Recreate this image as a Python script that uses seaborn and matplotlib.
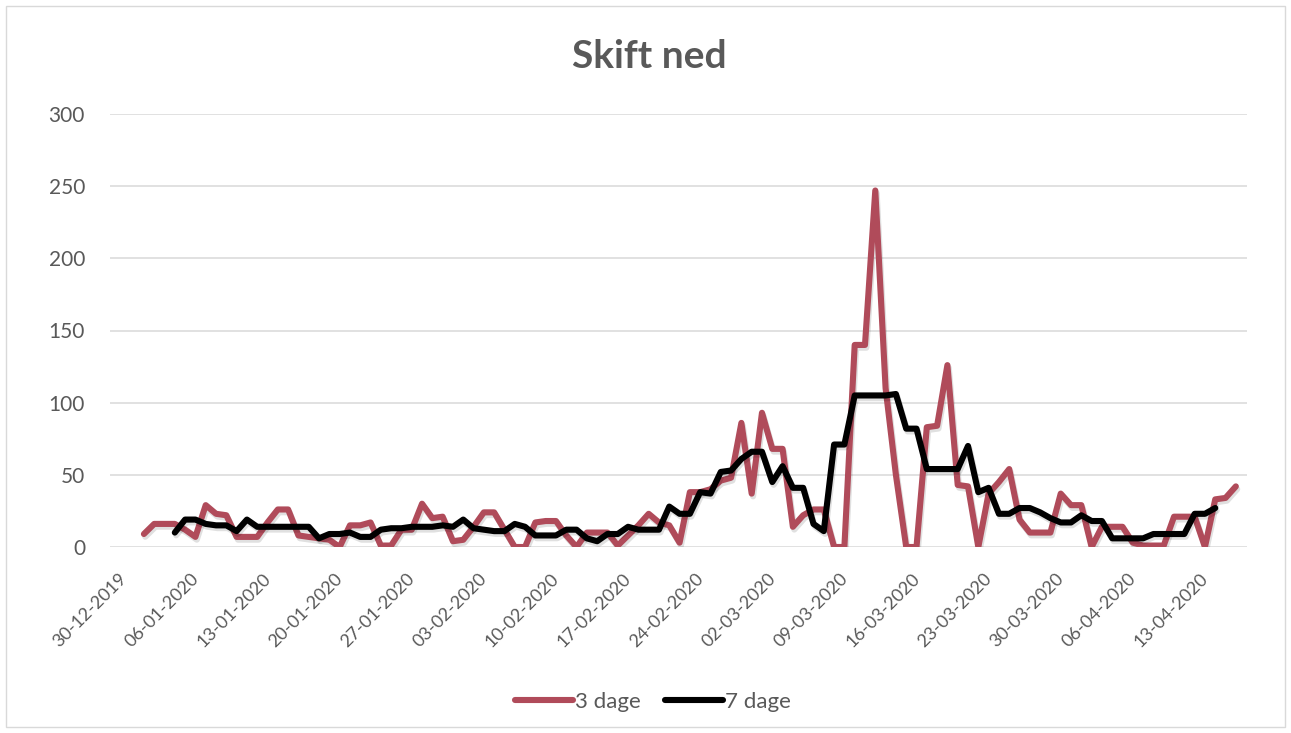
import pandas as pd
import matplotlib
matplotlib.use("Agg")
import matplotlib.pyplot as plt
import matplotlib.patheffects as pe
from matplotlib.patches import Rectangle
import seaborn as sns

# daily values
red_start = "2020-01-01"
red_vals = [9, 16, 16, 16, 12, 7, 29, 23, 22, 7, 7, 7, 17, 26, 26, 8, 7, 6, 5, 0,
            15, 15, 17, 1, 1, 12, 12, 30, 20, 21, 4, 5, 14, 24, 24, 12, 0, 0, 17, 18,
            18, 8, 0, 10, 10, 10, 1, 8, 15, 23, 17, 15, 3, 38, 38, 40, 46, 48, 86, 37,
            93, 68, 68, 14, 22, 26, 26, 0, 0, 140, 140, 247, 110, 50, 0, 0, 83, 84, 126, 43,
            42, 0, 37, 45, 54, 19, 10, 10, 10, 37, 29, 29, 0, 14, 14, 14, 3, 1, 1, 1,
            21, 21, 21, 0, 33, 34, 42]
black_start = "2020-01-04"
black_vals = [10, 19, 19, 16, 15, 15, 11, 19, 14, 14, 14, 14, 14, 14, 6, 9, 9, 10, 7, 7,
              12, 13, 13, 14, 14, 14, 15, 14, 19, 13, 12, 11, 11, 16, 14, 8, 8, 8, 12, 12,
              6, 4, 9, 9, 14, 12, 12, 12, 28, 23, 23, 38, 37, 52, 53, 61, 66, 66, 45, 56,
              41, 41, 16, 11, 71, 71, 105, 105, 105, 105, 106, 82, 82, 54, 54, 54, 54, 70, 38, 41,
              23, 23, 27, 27, 24, 20, 17, 17, 22, 18, 18, 6, 6, 6, 6, 9, 9, 9, 9, 23,
              23, 27]
series_names = ["3 dage", "7 dage"]
tick_dates = pd.date_range("2019-12-30", "2020-04-13", freq="7D")
y_ticks = [0, 50, 100, 150, 200, 250, 300]

half_day = pd.Timedelta(hours=12)
df = pd.concat([
    pd.DataFrame({"dato": pd.date_range(red_start, periods=len(red_vals)) + half_day,
                  "antal": red_vals, "serie": series_names[0]}),
    pd.DataFrame({"dato": pd.date_range(black_start, periods=len(black_vals)) + half_day,
                  "antal": black_vals, "serie": series_names[1]}),
])

sns.set_theme(style="white")
plt.rcParams["font.family"] = ["Lato", "DejaVu Sans"]
grey = "#595959"
lw = 4.4

fig = plt.figure(figsize=(12.91, 7.33), dpi=100)
ax = fig.add_axes([110 / 1291, 1 - 547 / 733, (1247 - 110) / 1291, (547 - 114) / 733])

shadow = [pe.SimpleLineShadow(offset=(1, -2), alpha=0.12, shadow_color="black"), pe.Normal()]
sns.lineplot(data=df, x="dato", y="antal", hue="serie",
             palette={"3 dage": "#B04B5A", "7 dage": "black"},
             linewidth=lw, ax=ax, legend=False, path_effects=shadow)

ax.set_ylim(0, 300)
ax.set_yticks(y_ticks)
ax.set_xlim(pd.Timestamp("2019-12-29 05:00"), pd.Timestamp("2020-04-17 14:00"))
ax.set_xticks(tick_dates)
ax.set_xticklabels([d.strftime("%d-%m-%Y") for d in tick_dates],
                   rotation=45, ha="right", va="top", rotation_mode="anchor")
ax.tick_params(axis="x", length=0, pad=17, labelsize=13, labelcolor=grey)
ax.tick_params(axis="y", length=0, pad=18, labelsize=15, labelcolor=grey)
ax.grid(axis="y", color="#d9d9d9", linewidth=1.1)
ax.set_axisbelow(True)
for s in ax.spines.values():
    s.set_visible(False)
ax.set_xlabel("")
ax.set_ylabel("")

fig.text(649 / 1291, 1 - 57 / 733, "Skift ned", ha="center", va="center",
         fontsize=28, fontweight="bold", color=grey)

handles = [plt.Line2D([], [], color="#B04B5A", linewidth=lw, solid_capstyle="round"),
           plt.Line2D([], [], color="black", linewidth=lw, solid_capstyle="round")]
fig.legend(handles, series_names, loc="center", bbox_to_anchor=(653 / 1291, 1 - 702 / 733),
           ncol=2, frameon=False, fontsize=16, handlelength=2.6, handletextpad=0.1,
           columnspacing=1.1, labelcolor=grey)

fig.patches.append(Rectangle((6 / 1291, 6 / 733), 1279 / 1291, 721 / 733,
                             transform=fig.transFigure, fill=False,
                             edgecolor="#d9d9d9", linewidth=1))

fig.savefig("out.png", dpi=100)
